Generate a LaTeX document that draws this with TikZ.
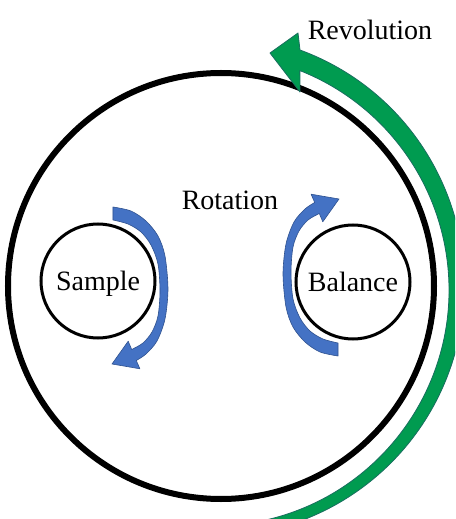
\documentclass[tikz,border=0pt]{standalone}
\usepackage{fontspec}
\setmainfont{Liberation Serif}
\usepackage{xcolor}
\usepackage{tikz}
\definecolor{figline}{RGB}{0,0,0}
\definecolor{revfill}{RGB}{0,155,80}
\definecolor{revedge}{RGB}{25,110,95}
\definecolor{spinfill}{RGB}{68,114,196}
\definecolor{spinedge}{RGB}{47,82,143}
\tikzset{
  lab/.style   ={font=\fontsize{28}{30}\selectfont, inner sep=1pt},
  ring/.style  ={draw=figline, circle, line width=6pt, minimum size=426pt, inner sep=0pt},
  wheel/.style ={draw=figline, circle, line width=3pt, minimum size=114pt, inner sep=0pt,
                 font=\fontsize{28}{30}\selectfont, text height=19pt, text depth=0pt},
  spinarrow/.style={fill=spinfill, draw=spinedge, line width=0.6pt, line join=round},
  revarrow/.style ={fill=revfill, draw=revedge, line width=0.8pt, line join=round},
  spin/.pic={
    \path[spinarrow] (15,61) -- (15,74)
      -- plot[smooth] coordinates {(15,74) (33,70) (48,60) (60,45) (67,25) (70,-8) (67,-38) (59,-60) (48,-73) (38.3,-79.5)}
      -- (41.9,-87.8) -- (14,-83) -- (30.2,-60.2)
      -- plot[smooth] coordinates {(33.7,-68.5) (45,-62) (54,-51) (60,-35) (62,-10) (60,17) (53,36) (43,49) (30,57) (15,61)}
      -- cycle;
  },
}

\begin{document}
\begin{tikzpicture}[x=1pt,y=1pt]
  \useasboundingbox (-221,-233) rectangle (234,286);
  \node[ring] (disc) at (0,0) {};
  \begin{scope}
  \clip (-221,-233) rectangle (234,286);
  \path[revarrow] ([shift={(-8,-4)}]-80:236) arc[start angle=-80, end angle=68.4, radius=236]
    -- (79,194) -- (49,233) -- (77,253) -- (79,236)
    arc[start angle=69.8, end angle=-80, radius=251] -- cycle;
  \end{scope}
  \node[wheel] (sample) at (-123,5) {Sample};
  \node[wheel] (balance) at (132,4) {Balance};
  \pic at (sample.center) {spin};
  \pic[rotate=180] at (balance.center) {spin};
  \node[lab] (rot) at (9,86) {Rotation};
  \node[lab] (rev) at (149,256) {Revolution};
\end{tikzpicture}
\end{document}
